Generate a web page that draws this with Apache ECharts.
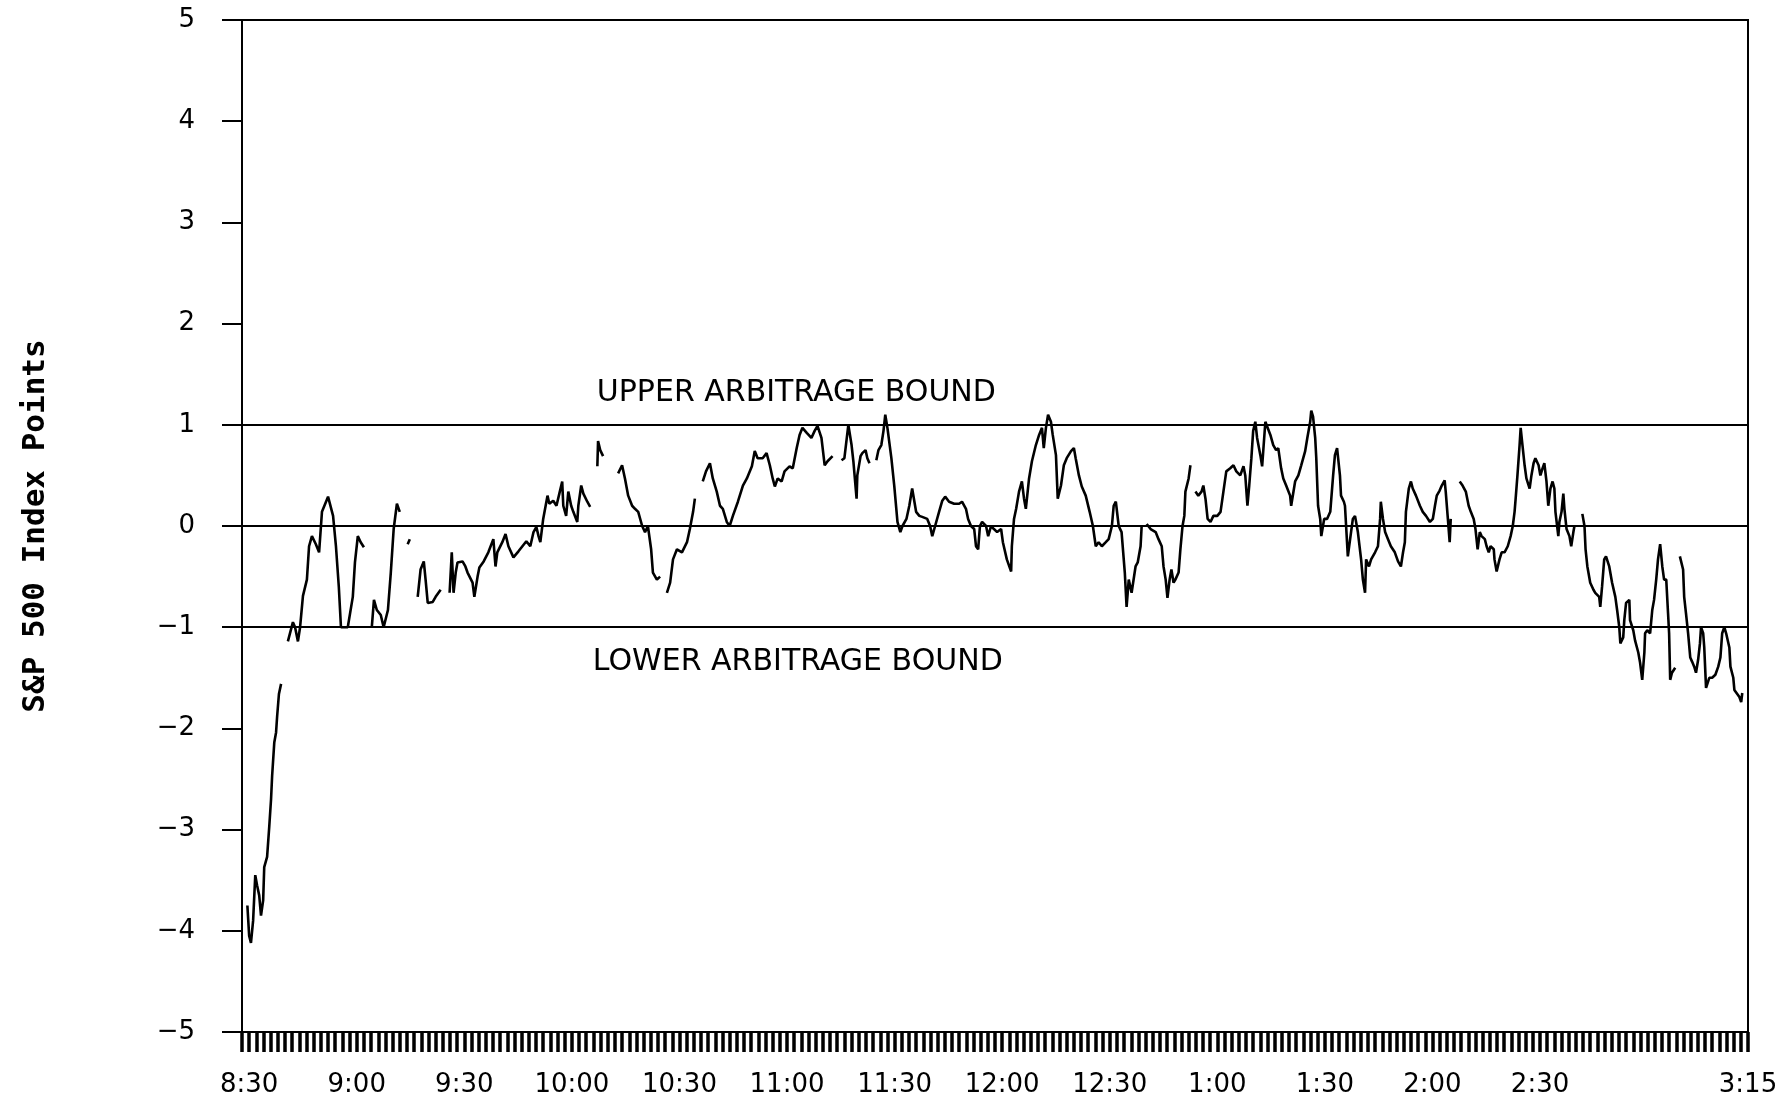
<!DOCTYPE html>
<html>
<head>
<meta charset="utf-8">
<script src="https://cdn.jsdelivr.net/npm/echarts@6/dist/echarts.min.js"></script>
<style>
html,body{margin:0;padding:0;background:#fff;}
#chart{width:1792px;height:1101px;}
</style>
</head>
<body>
<div id="chart"></div>
<script>
// Minutes after 8:30 for each observation (null = break in the trace)
const minute = [
 -0.5,0,0.5,1.1,1.7,2.2,2.8,3.3,3.9,4.2,5.0,5.6,6.1,6.4,7.0,7.5,7.8,8.3,8.9,
 null,
 10.8,12.2,12.8,13.6,14.2,15.0,16.1,16.7,17.5,18.6,19.5,20.3,22.0,23.4,24.2,25.0,25.6,27.5,28.9,29.5,30.3,31.1,32.0,
 null,
 34.2,34.8,35.6,36.7,37.5,38.7,39.5,40.3,41.2,42.0,
 null,
 44.2,44.8,
 null,
 47.0,47.8,48.7,49.2,49.8,51.2,52.0,53.4,
 null,
 55.9,56.5,57.0,57.6,58.1,59.5,60.3,60.9,62.3,62.8,63.7,64.2,65.4,66.7,68.1,68.7,69.2,70.6,71.5,72.3,
 73.7,75.1,76.2,77.3,78.4,79.3,80.1,80.7,81.2,82.0,83.2,83.7,84.8,85.7,86.5,87.3,87.6,88.4,89.0,89.8,
 90.4,91.5,91.8,92.6,93.2,94.3,95.1,
 null,
 97.1,97.3,97.9,98.7,
 null,
 102.9,104.0,104.8,105.7,106.8,107.6,108.5,109.6,110.4,111.2,112.1,112.6,113.7,114.6,
 null,
 116.5,117.4,118.2,119.3,120.7,122.1,122.9,123.8,124.3,
 null,
 126.5,127.4,128.5,129.3,130.4,131.3,132.1,133.2,134.0,134.9,136.3,137.7,138.8,140.2,141.0,141.8,143.2,144.3,145.2,146.0,
 146.6,147.4,148.5,149.3,150.7,151.6,152.7,153.5,154.3,155.5,156.8,157.7,158.5,159.6,160.5,161.3,162.7,
 null,
 165.2,166.0,167.1,168.0,168.5,169.4,169.6,170.5,171.0,171.9,172.4,173.0,
 null,
 174.9,175.5,176.3,176.9,177.4,178.0,179.1,179.9,180.8,181.6,182.2,183.3,184.1,184.9,186.0,186.9,187.7,189.1,189.9,190.5,
 191.3,192.4,193.3,194.1,195.2,196.6,198.0,198.8,199.9,200.5,201.3,202.2,202.7,203.3,203.8,204.4,205.5,206.1,206.9,207.7,
 208.6,209.7,210.2,211.3,212.5,212.7,213.3,213.9,214.7,215.5,216.1,216.6,217.5,218.3,219.4,220.3,221.1,221.6,222.2,222.8,
 223.6,224.1,225.0,225.5,226.4,227.2,228.0,229.2,230.0,230.5,231.4,232.2,233.3,234.4,235.3,236.1,236.9,237.8,238.9,239.7,
 240.6,241.1,241.7,242.5,243.3,244.2,244.7,245.3,246.1,247.2,247.8,248.6,248.9,
 null,
 250.3,251.4,252.8,253.6,254.5,255.0,255.6,256.1,256.7,257.2,257.8,258.3,259.2,259.7,260.3,260.8,261.1,262.0,262.5,
 null,
 263.9,264.7,265.6,266.1,266.7,267.3,268.1,268.9,270.0,270.9,271.7,272.5,273.6,274.5,275.3,276.4,277.3,277.8,278.4,278.9,
 279.5,280.0,280.6,281.1,282.0,282.5,283.4,283.9,284.8,285.6,286.4,287.0,287.8,288.4,289.2,290.3,290.6,291.7,292.6,293.4,
 294.5,295.1,295.9,296.2,296.7,297.3,297.6,298.1,298.7,299.0,299.8,300.6,301.5,302.3,302.8,303.4,304.2,304.5,305.3,305.6,
 306.4,307.3,307.8,308.4,309.2,310.1,310.6,311.2,311.5,312.3,312.9,314.0,314.8,315.4,315.6,316.2,316.8,317.6,318.4,319.5,
 320.4,321.2,321.8,322.3,322.6,323.4,324.0,324.5,325.4,326.5,327.3,328.2,329.3,330.1,330.7,331.2,332.0,332.6,333.4,333.7,
 334.3,334.8,335.1,
 null,
 337.6,338.4,339.3,340.1,340.7,341.5,342.0,342.6,343.2,343.7,344.6,345.1,345.7,346.2,347.1,347.3,347.9,348.7,349.3,350.1,
 351.0,351.8,352.4,352.9,353.2,353.7,354.3,354.6,355.1,355.7,356.2,357.1,357.6,358.2,358.7,359.6,360.1,360.7,361.2,361.8,
 362.3,362.9,363.5,364.0,364.3,365.1,365.4,366.0,366.5,366.8,367.4,368.2,368.7,369.3,369.6,
 null,
 371.8,372.4,372.7,373.2,374.0,374.9,375.4,376.5,376.8,377.3,377.9,378.4,379.3,380.1,381.0,381.5,382.1,382.4,383.2,383.5,
 384.0,384.9,385.1,386.0,386.5,387.4,387.9,388.5,389.1,389.3,389.9,390.7,391.3,391.8,392.4,392.9,393.5,394.1,394.6,395.2,
 395.7,396.0,396.3,396.8,397.7,
 null,
 399.0,399.9,400.2,400.7,401.3,401.9,402.4,403.0,403.5,404.1,404.6,404.9,405.5,405.8,406.3,407.2,408.0,408.9,409.7,410.3,
 410.8,411.4,411.9,412.8,413.1,413.9,414.2,414.8,415.6,416.1,416.4
];

// Futures-minus-index spread, S&P 500 index points (null = break)
const spread = [
 -3.75,-4.05,-4.12,-3.9,-3.45,-3.55,-3.65,-3.85,-3.7,-3.37,-3.27,-2.97,-2.7,-2.47,-2.14,-2.04,-1.88,-1.66,-1.56,
 null,
 -1.14,-0.95,-1.0,-1.14,-1.0,-0.69,-0.53,-0.2,-0.1,-0.18,-0.26,0.14,0.29,0.1,-0.2,-0.6,-1.0,-1.0,-0.7,-0.36,-0.1,-0.16,-0.21,
 null,
 -1.0,-0.73,-0.83,-0.88,-1.0,-0.83,-0.46,-0.03,0.22,0.14,
 null,
 -0.18,-0.13,
 null,
 -0.7,-0.43,-0.35,-0.53,-0.76,-0.75,-0.7,-0.63,
 null,
 -0.66,-0.26,-0.66,-0.46,-0.36,-0.35,-0.4,-0.46,-0.56,-0.7,-0.5,-0.41,-0.35,-0.26,-0.13,-0.4,-0.26,-0.16,-0.08,-0.2,
 -0.31,-0.25,-0.2,-0.15,-0.2,-0.06,-0.01,-0.1,-0.16,0.07,0.3,0.22,0.25,0.2,0.32,0.44,0.2,0.1,0.34,0.2,
 0.14,0.04,0.2,0.4,0.32,0.24,0.19,
 null,
 0.59,0.84,0.75,0.69,
 null,
 0.52,0.6,0.47,0.3,0.2,0.17,0.14,0,-0.06,0,-0.23,-0.46,-0.53,-0.5,
 null,
 -0.66,-0.56,-0.33,-0.23,-0.26,-0.16,-0.03,0.14,0.27,
 null,
 0.44,0.54,0.62,0.47,0.34,0.2,0.17,0.04,0,0.1,0.24,0.4,0.47,0.59,0.74,0.67,0.67,0.72,0.6,0.47,
 0.39,0.47,0.44,0.54,0.59,0.57,0.77,0.9,0.97,0.92,0.87,0.94,0.99,0.87,0.6,0.64,0.69,
 null,
 0.65,0.67,1.0,0.8,0.64,0.27,0.5,0.69,0.72,0.75,0.67,0.62,
 null,
 0.65,0.75,0.8,0.94,1.1,0.97,0.67,0.4,0.04,-0.06,0,0.07,0.2,0.37,0.14,0.1,0.09,0.07,0,-0.1,
 0,0.14,0.25,0.29,0.24,0.22,0.22,0.24,0.17,0.07,0,-0.03,-0.2,-0.23,0,0.04,0,-0.1,0,-0.03,
 -0.06,-0.03,-0.16,-0.33,-0.45,-0.2,0.07,0.17,0.34,0.44,0.27,0.17,0.47,0.64,0.8,0.9,0.97,0.77,0.97,1.1,
 1.03,0.9,0.7,0.27,0.4,0.6,0.67,0.74,0.77,0.67,0.5,0.39,0.3,0.14,0,-0.2,-0.16,-0.2,-0.16,-0.13,
 0,0.2,0.24,0,-0.06,-0.46,-0.8,-0.53,-0.66,-0.4,-0.36,-0.2,0,
 null,
 0.02,-0.03,-0.06,-0.13,-0.2,-0.4,-0.53,-0.71,-0.53,-0.43,-0.56,-0.53,-0.46,-0.23,0,0.1,0.34,0.47,0.6,
 null,
 0.34,0.3,0.34,0.4,0.27,0.07,0.04,0.1,0.1,0.14,0.34,0.54,0.57,0.6,0.54,0.5,0.59,0.5,0.2,0.4,
 0.67,0.94,1.03,0.87,0.7,0.59,1.03,1.04,0.9,0.8,0.75,0.77,0.57,0.47,0.4,0.3,0.2,0.44,0.5,0.6,
 0.74,0.87,1.03,1.14,1.08,0.87,0.67,0.2,0.07,-0.1,0.07,0.07,0.14,0.5,0.7,0.77,0.5,0.3,0.24,0.2,
 -0.3,-0.06,0.07,0.1,-0.06,-0.33,-0.53,-0.66,-0.33,-0.4,-0.33,-0.26,-0.2,0.07,0.24,0.07,-0.06,-0.13,-0.2,-0.26,
 -0.35,-0.4,-0.26,-0.16,0.14,0.37,0.44,0.37,0.3,0.2,0.14,0.1,0.04,0.07,0.2,0.3,0.35,0.4,0.45,0.34,
 0.07,-0.16,0.07,
 null,
 0.44,0.4,0.34,0.2,0.14,0.07,-0.03,-0.23,-0.06,-0.1,-0.13,-0.2,-0.26,-0.2,-0.23,-0.33,-0.45,-0.33,-0.26,-0.26,
 -0.2,-0.1,0,0.14,0.27,0.5,0.8,0.97,0.8,0.6,0.47,0.37,0.5,0.62,0.67,0.6,0.5,0.57,0.62,0.44,
 0.2,0.37,0.44,0.37,0.14,-0.1,0.04,0.14,0.32,0.17,-0.03,-0.1,-0.2,-0.06,0,
 null,
 0.12,0,-0.23,-0.4,-0.56,-0.63,-0.66,-0.7,-0.8,-0.6,-0.33,-0.3,-0.4,-0.56,-0.7,-0.83,-1.0,-1.16,-1.1,-0.93,
 -0.76,-0.73,-0.93,-1.03,-1.13,-1.25,-1.35,-1.52,-1.25,-1.06,-1.03,-1.06,-0.83,-0.73,-0.53,-0.33,-0.18,-0.4,-0.53,-0.53,
 -0.86,-1.06,-1.52,-1.45,-1.4,
 null,
 -0.3,-0.43,-0.7,-0.86,-1.06,-1.3,-1.34,-1.39,-1.45,-1.32,-1.16,-1.0,-1.06,-1.2,-1.6,-1.5,-1.5,-1.47,-1.39,-1.3,
 -1.06,-1.0,-1.06,-1.2,-1.39,-1.5,-1.62,-1.65,-1.69,-1.74,-1.65
];

// Time-axis labels (minutes after 8:30)
const tickMinutes = [0, 30, 60, 90, 120, 150, 180, 210, 240, 270, 300, 330, 360, 418];
const tickLabels = ['8:30', '9:00', '9:30', '10:00', '10:30', '11:00', '11:30', '12:00', '12:30', '1:00', '1:30', '2:00', '2:30', '3:15'];

// Arbitrage bounds and their captions
const boundLevels = [1, 0, -1];
const captionText = ['UPPER ARBITRAGE BOUND', 'LOWER ARBITRAGE BOUND'];
const captionMinute = [152.6, 153.0];
const captionLevel = [1.31, -1.35];

if (minute.length !== spread.length) {
  throw new Error('length mismatch ' + minute.length + ' vs ' + spread.length);
}

const seriesData = minute.map((m, i) => (m === null || spread[i] === null) ? ['-', '-'] : [m, spread[i]]);

const chart = echarts.init(document.getElementById('chart'), null, {renderer: 'canvas'});
const txt = {color: '#000', fontFamily: 'DejaVu Sans'};

chart.setOption({
  backgroundColor: '#fff',
  animation: false,
  grid: {left: 242, right: 44, top: 20, bottom: 69, show: true, borderColor: '#000', borderWidth: 2},
  xAxis: {
    type: 'value', min: -2, max: 418, interval: 2,
    axisLine: {show: true, onZero: false, lineStyle: {color: '#000', width: 2}},
    axisTick: {show: true, inside: false, length: 20, lineStyle: {color: '#000', width: 3.5}},
    splitLine: {show: false},
    axisLabel: Object.assign({
      margin: 40, fontSize: 26, showMinLabel: true, showMaxLabel: true,
      formatter: function (v) {
        const k = tickMinutes.indexOf(Math.round(v * 1000) / 1000);
        return k >= 0 ? tickLabels[k] : '';
      }
    }, txt)
  },
  yAxis: {
    type: 'value', min: -5, max: 5, interval: 1,
    name: 'S&P 500 Index Points', nameLocation: 'middle', nameRotate: 90, nameGap: 191,
    nameTextStyle: {color: '#000', fontFamily: 'DejaVu Sans Mono', fontWeight: 'bold', fontSize: 31},
    axisLine: {show: true, onZero: false, lineStyle: {color: '#000', width: 2}},
    axisTick: {show: true, inside: false, length: 20, lineStyle: {color: '#000', width: 2}},
    splitLine: {show: false},
    axisLabel: Object.assign({
      margin: 47, fontSize: 26,
      formatter: function (v) { return v < 0 ? '\u2212' + Math.abs(v) : String(v); }
    }, txt)
  },
  series: [{
    type: 'line',
    data: seriesData,
    showSymbol: false,
    symbol: 'none',
    connectNulls: false,
    lineStyle: {color: '#000', width: 2.6},
    z: 3,
    markLine: {
      silent: true, symbol: 'none', animation: false,
      lineStyle: {color: '#000', width: 2, type: 'solid'},
      label: {show: false},
      data: boundLevels.map(l => ({yAxis: l}))
    },
    markPoint: {
      silent: true, animation: false, symbol: 'circle', symbolSize: 1,
      itemStyle: {color: 'rgba(0,0,0,0)'},
      label: Object.assign({show: true, position: 'inside', fontSize: 30, formatter: '{b}'}, txt),
      data: captionText.map((t, i) => ({name: t, coord: [captionMinute[i], captionLevel[i]]}))
    }
  }]
});
</script>
</body>
</html>
